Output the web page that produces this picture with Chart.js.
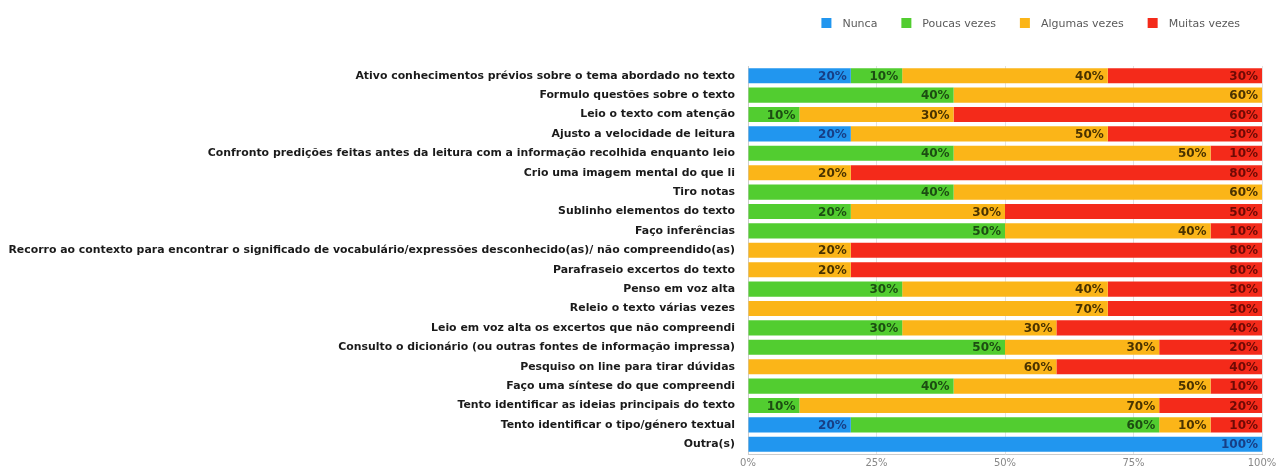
<!DOCTYPE html>
<html>
<head>
<meta charset="utf-8">
<script src="https://cdn.jsdelivr.net/npm/chart.js@4.4.1/dist/chart.umd.min.js"></script>
<style>
  html, body { margin: 0; padding: 0; background: #ffffff; }
  #wrap { width: 1280px; height: 470px; }
</style>
</head>
<body>
<div id="wrap"><canvas id="grafico"></canvas></div>
<script>
// categorias (de cima para baixo)
var categorias = [
    'Ativo conhecimentos prévios sobre o tema abordado no texto',
    'Formulo questões sobre o texto',
    'Leio o texto com atenção',
    'Ajusto a velocidade de leitura',
    'Confronto predições feitas antes da leitura com a informação recolhida enquanto leio',
    'Crio uma imagem mental do que li',
    'Tiro notas',
    'Sublinho elementos do texto',
    'Faço inferências',
    'Recorro ao contexto para encontrar o significado de vocabulário/expressões desconhecido(as)/ não compreendido(as)',
    'Parafraseio excertos do texto',
    'Penso em voz alta',
    'Releio o texto várias vezes',
    'Leio em voz alta os excertos que não compreendi',
    'Consulto o dicionário (ou outras fontes de informação impressa)',
    'Pesquiso on line para tirar dúvidas',
    'Faço uma síntese do que compreendi',
    'Tento identificar as ideias principais do texto',
    'Tento identificar o tipo/género textual',
    'Outra(s)'
];

var nunca        = [20, 0, 0, 20, 0, 0, 0, 0, 0, 0, 0, 0, 0, 0, 0, 0, 0, 0, 20, 100];
var poucasVezes  = [10, 40, 10, 0, 40, 0, 40, 20, 50, 0, 0, 30, 0, 30, 50, 0, 40, 10, 60, 0];
var algumasVezes = [40, 60, 30, 50, 50, 20, 60, 30, 40, 20, 20, 40, 70, 30, 30, 60, 50, 70, 10, 0];
var muitasVezes  = [30, 0, 60, 30, 10, 80, 0, 50, 10, 80, 80, 30, 30, 40, 20, 40, 10, 20, 10, 0];

var ticksX = ['0%', '25%', '50%', '75%', '100%'];

var series = [
    { nome: 'Nunca', valores: nunca, cor: '#2196ef', corTexto: '#173f86' },
    { nome: 'Poucas vezes', valores: poucasVezes, cor: '#52cd30', corTexto: '#1c4d12' },
    { nome: 'Algumas vezes', valores: algumasVezes, cor: '#fbb518', corTexto: '#4a3300' },
    { nome: 'Muitas vezes', valores: muitasVezes, cor: '#f42a1a', corTexto: '#6e0a05' }
];

// plugin simples para escrever o valor no fim de cada segmento
var rotulosPlugin = {
    id: 'rotulos',
    afterDatasetsDraw: function (chart) {
        let ctx = chart.ctx;
        ctx.save();
        ctx.font = 'bold 12px "DejaVu Sans", sans-serif';
        ctx.textAlign = 'right';
        ctx.textBaseline = 'middle';
        chart.data.datasets.forEach(function (ds, i) {
            let meta = chart.getDatasetMeta(i);
            meta.data.forEach(function (bar, j) {
                let v = ds.data[j];
                if (!v) return;
                ctx.fillStyle = series[i].corTexto;
                ctx.fillText(v + '%', bar.x - 4, bar.y + 1);
            });
        });
        ctx.restore();
    }
};

// legenda desenhada à mão, alinhada à direita
var legendaPlugin = {
    id: 'legenda',
    afterDraw: function (chart) {
        let ctx = chart.ctx;
        let yMeio = 23;
        let fimDireita = 1240;
        let caixa = 10, espacoTexto = 11, espacoItem = 24;
        ctx.save();
        ctx.font = '11px "DejaVu Sans", sans-serif';
        ctx.textBaseline = 'middle';
        ctx.textAlign = 'left';
        let larguras = chart.data.datasets.map(function (ds) { return ctx.measureText(ds.label).width; });
        let total = 0;
        larguras.forEach(function (w) { total += caixa + espacoTexto + w; });
        total += espacoItem * (larguras.length - 1);
        let x = fimDireita - total;
        chart.data.datasets.forEach(function (ds, i) {
            ctx.fillStyle = ds.backgroundColor;
            ctx.fillRect(x, yMeio - caixa / 2, caixa, caixa);
            x += caixa + espacoTexto;
            ctx.fillStyle = '#5a5a5a';
            ctx.fillText(ds.label, x, yMeio + 1);
            x += larguras[i] + espacoItem;
        });
        ctx.restore();
    }
};

let dados = {
    labels: categorias,
    datasets: series.map(function (s) {
        return {
            label: s.nome,
            data: s.valores,
            backgroundColor: s.cor,
            borderWidth: 0,
            barPercentage: 0.78,
            categoryPercentage: 1.0
        };
    })
};

let ctx = document.getElementById('grafico').getContext('2d');

let chart = new Chart(ctx, {
    type: 'bar',
    data: dados,
    options: {
        indexAxis: 'y',
        responsive: true,
        maintainAspectRatio: false,
        animation: false,
        layout: {
            padding: { top: 66, right: 18, bottom: 0, left: 0 }
        },
        scales: {
            x: {
                stacked: true,
                min: 0,
                max: 100,
                ticks: {
                    stepSize: 25,
                    color: '#888',
                    font: { size: 10, family: '"DejaVu Sans", sans-serif' },
                    padding: 3,
                    callback: function (value, index) { return ticksX[index]; }
                },
                grid: { color: '#e2e2e2', drawTicks: false },
                border: { color: '#cccccc' },
                afterFit: function (scale) { scale.height = 16; }
            },
            y: {
                stacked: true,
                ticks: {
                    color: '#1a1a1a',
                    font: { size: 10.9, weight: 'bold', family: '"DejaVu Sans", sans-serif' },
                    padding: 5,
                    autoSkip: false
                },
                grid: { display: false },
                border: { color: '#cccccc' },
                afterFit: function (scale) { scale.width = 748; }
            }
        },
        plugins: {
            legend: { display: false },
            tooltip: { enabled: false }
        }
    },
    plugins: [rotulosPlugin, legendaPlugin]
});
</script>
</body>
</html>
